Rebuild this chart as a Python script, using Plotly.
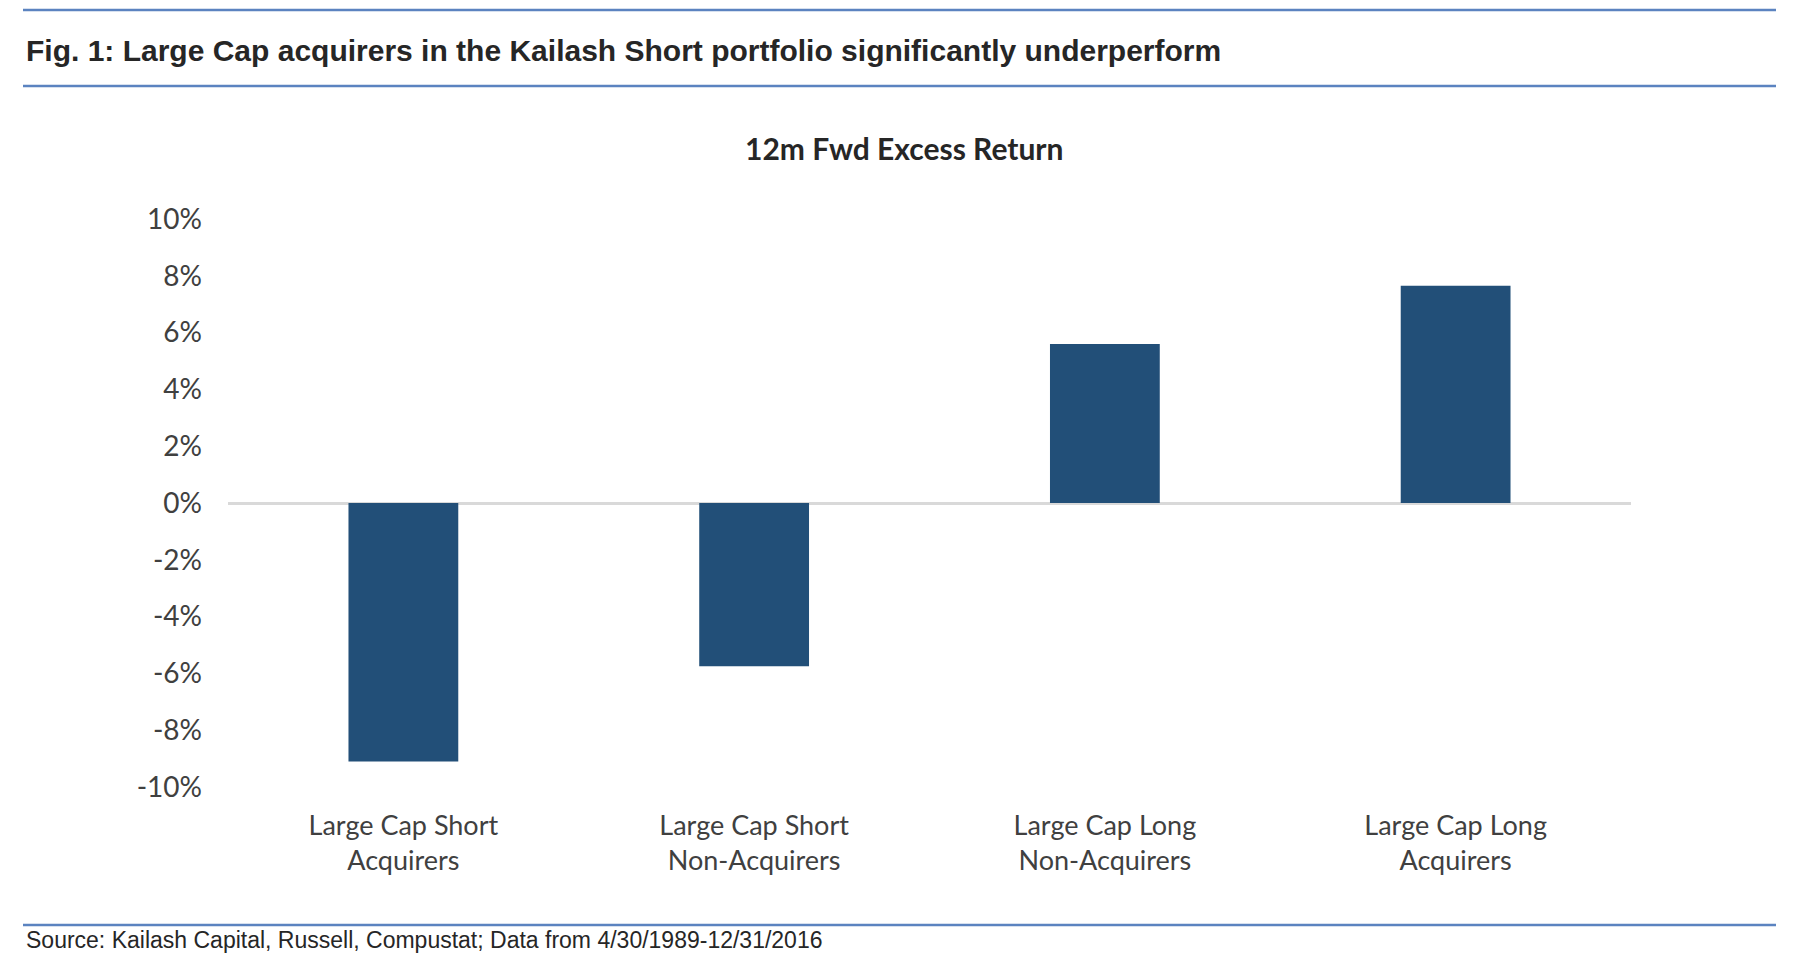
import plotly.graph_objects as go

# data
categories = ["Large Cap Short<br>Acquirers", "Large Cap Short<br>Non-Acquirers",
              "Large Cap Long<br>Non-Acquirers", "Large Cap Long<br>Acquirers"]
excess_return = [-9.1, -5.75, 5.6, 7.65]
y_ticks = [-10, -8, -6, -4, -2, 0, 2, 4, 6, 8, 10]
y_ticktext = [f"{v}%" for v in y_ticks]

W, H = 1794, 972
BLUE_LINE = "#5b83c0"
BAR = "#224f78"


def px(x):
    return x / W


def py(y):
    return 1 - y / H


fig = go.Figure(go.Bar(x=categories, y=excess_return, marker_color=BAR,
                       marker_line_width=0))

fig.update_layout(
    width=W, height=H,
    margin=dict(l=0, r=0, t=0, b=0, autoexpand=False),
    paper_bgcolor="white", plot_bgcolor="white",
    bargap=0.687,
    showlegend=False,
    font=dict(family="Lato", size=27, color="#404040"),
    xaxis=dict(domain=[px(228), px(1631)], showgrid=False, showline=False,
               automargin=False, ticks="", ticklabelstandoff=20,
               tickfont=dict(size=27, color="#404040")),
    yaxis=dict(domain=[py(787), py(219)], range=[-10, 10], tickvals=y_ticks,
               ticktext=y_ticktext, showgrid=False, showline=False, ticks="",
               automargin=False, zeroline=True, zerolinecolor="#d9d9d9",
               zerolinewidth=3, ticklabelstandoff=25,
               tickfont=dict(size=28, color="#404040")),
)

# report-style rules above/below the title and above the source
for y in (10, 86, 925):
    fig.add_shape(type="line", xref="paper", yref="paper",
                  x0=px(23), x1=px(1776), y0=py(y), y1=py(y),
                  line=dict(color=BLUE_LINE, width=2.5))

fig.add_annotation(text="<b>Fig. 1: Large Cap acquirers in the Kailash Short portfolio significantly underperform</b>",
                   xref="paper", yref="paper", x=px(24), y=py(50),
                   xanchor="left", yanchor="middle", showarrow=False,
                   font=dict(family="Liberation Sans", size=30, color="#262626"))

fig.add_annotation(text="<b>12m Fwd Excess Return</b>",
                   xref="paper", yref="paper", x=px(904), y=py(148),
                   xanchor="center", yanchor="middle", showarrow=False,
                   font=dict(family="Lato", size=30, color="#262626"))

fig.add_annotation(text="Source: Kailash Capital, Russell, Compustat; Data from 4/30/1989-12/31/2016",
                   xref="paper", yref="paper", x=px(24), y=py(940),
                   xanchor="left", yanchor="middle", showarrow=False,
                   font=dict(family="Liberation Sans", size=23, color="#262626"))

fig.write_html("out.html", config={"displayModeBar": False},
               post_script="document.body.style.margin='0';")
